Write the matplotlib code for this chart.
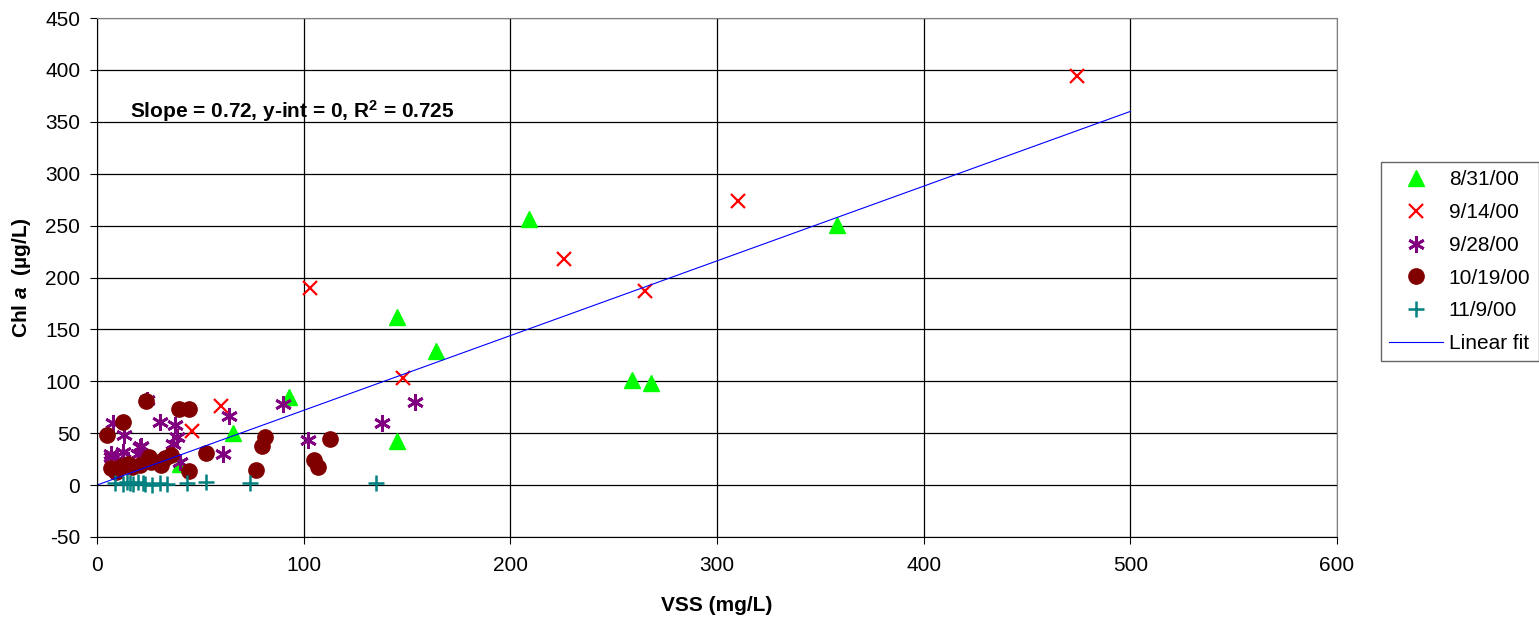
import matplotlib
matplotlib.use("Agg")
import matplotlib.pyplot as plt
import numpy as np

plt.rcParams['font.family'] = ['Liberation Sans', 'DejaVu Sans']
plt.rcParams['axes.unicode_minus'] = False
plt.rcParams['mathtext.fontset'] = 'custom'
plt.rcParams['mathtext.rm'] = 'Liberation Sans:bold'
plt.rcParams['mathtext.bf'] = 'Liberation Sans:bold'
plt.rcParams['mathtext.it'] = 'Liberation Sans:bold:italic'

# 8/31/00
aug31_x = [93, 209, 145, 164, 259, 268, 358, 145, 66, 40]
aug31_y = [85, 256, 162, 129, 101, 98, 251, 42, 50, 20]
# 9/14/00
sep14_x = [474, 310, 226, 265, 103, 148, 60, 46]
sep14_y = [394, 274, 218, 187, 190, 103, 76, 52]
# 9/28/00
sep28_x = [154, 138, 102, 90, 64, 61, 24, 30.5, 38, 38.5, 37, 40, 8, 13, 21.5, 20, 7, 12.7, 9.5, 15, 7, 21]
sep28_y = [80, 60, 43, 78, 67, 30, 82, 61, 58, 46, 40, 22, 60, 48, 38, 30, 30, 32, 24, 24, 27, 37]
# 10/19/00
oct19_x = [5, 12.5, 23.5, 39.5, 44.5, 7, 9, 12, 15, 17, 21, 25, 26, 30, 31, 33, 36, 44.5, 53, 77, 80, 81.5, 105, 107, 113]
oct19_y = [48, 61, 81, 73, 73, 16, 13, 18, 20, 17, 19, 27, 22, 22, 19, 26, 29, 14, 31, 15, 38, 46, 24, 17, 44]
# 11/9/00
nov9_x = [8.7, 12.7, 14.4, 16, 17.6, 20, 22.5, 23.2, 26.4, 30.5, 33.7, 43.4, 53, 74, 135]
nov9_y = [2, 1, 3, 2, 1, 3, 2, 1, 0, 2, 1, 2, 3, 2, 2]

slope = 0.72
fit_x = np.array([0, 500])

FS = 15

fig = plt.figure(figsize=(15.39, 6.22), dpi=100)
ax = fig.add_axes([0.063, 0.1367, 0.8057, 0.8343])

ax.plot(aug31_x, aug31_y, '^', color='#00ff00', markersize=11, linestyle='none', label='8/31/00')
ax.plot(sep14_x, sep14_y, 'x', color='#ff0000', markersize=10, mew=1.6, linestyle='none', label='9/14/00')
ax.plot(sep28_x, sep28_y, linestyle='none', marker=(6, 2, 0), color='#800080', markersize=12, mew=2.0, label='9/28/00')
ax.plot(oct19_x, oct19_y, 'o', color='#800000', markersize=11, linestyle='none', label='10/19/00')
ax.plot(nov9_x, nov9_y, '+', color='#008080', markersize=11, mew=1.8, linestyle='none', label='11/9/00')
ax.plot(fit_x, slope * fit_x, color='#0000ff', linewidth=0.8, label='Linear fit')

ax.set_xlim(0, 600)
ax.set_ylim(-50, 450)
ax.set_xticks(np.arange(0, 601, 100))
ax.set_yticks(np.arange(-50, 451, 50))
ax.grid(True, color='black', linewidth=0.9)
ax.set_axisbelow(True)
ax.tick_params(axis='x', labelsize=FS, length=5, pad=9)
ax.tick_params(axis='y', labelsize=FS, length=5, pad=7)
for s in ax.spines.values():
    s.set_color('#808080')
ax.spines['left'].set_color('black')
ax.spines['bottom'].set_color('black')

ax.set_xlabel('VSS (mg/L)', fontsize=FS, fontweight='bold', labelpad=15)
ax.set_ylabel('Chl $a$  (µg/L)', fontsize=FS, fontweight='bold', labelpad=9)

ax.text(16, 360, 'Slope = 0.72, y-int = 0, R$^{2}$ = 0.725', fontsize=FS, fontweight='bold',
        va='center', ha='left')

fig.legend(loc='upper left', bbox_to_anchor=(0.8973, 0.7395), fontsize=FS, frameon=True,
           fancybox=False, edgecolor='#404040', labelspacing=0.66, handlelength=2.6,
           handletextpad=0.25, borderpad=0.4, borderaxespad=0)

fig.savefig('out.png', dpi=100)
